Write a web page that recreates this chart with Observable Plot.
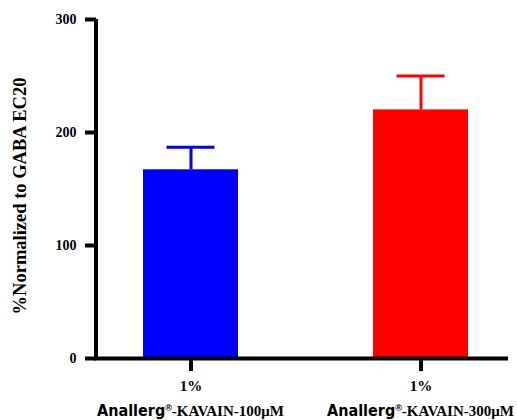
<!DOCTYPE html>
<html><head><meta charset="utf-8">
<script src="https://cdn.jsdelivr.net/npm/d3@7"></script>
<script src="https://cdn.jsdelivr.net/npm/@observablehq/plot@0.6"></script>
<style>body{margin:0;background:#fff}</style>
</head><body><div id="chart"></div>
<script>
const categories = ["KAVAIN-100μM", "KAVAIN-300μM"];
const means = [167, 220];
const errors = [20, 30];
const colors = ["#0000ff", "#ff0000"];
const labelTop = ["1%", "1%"];
const labelBrand = ["Anallerg", "Anallerg"];
const labelRest = ["-KAVAIN-100μM", "-KAVAIN-300μM"];
const yTicks = [0, 100, 200, 300];
const yLabel = "%Normalized to GABA EC20";

const data = categories.map((c, i) => ({cat: c, mean: means[i], hi: means[i] + errors[i], color: colors[i], top: labelTop[i]}));

const serif = "'Liberation Serif', 'Times New Roman', serif";
const plot = Plot.plot({
  width: 517, height: 420,
  marginLeft: 96, marginRight: 9, marginTop: 19, marginBottom: 62,
  style: {fontFamily: serif, fontWeight: "bold", fontSize: "14px", color: "#000", background: "#fff"},
  x: {domain: categories, paddingInner: 0.587, paddingOuter: 0.189, align: 0.54, axis: null},
  y: {domain: [0, 300], axis: null},
  color: {type: "identity"},
  marks: [
    Plot.barY(data, {x: "cat", y: "mean", fill: "color"}),
    Plot.ruleX(data, {x: "cat", y1: "mean", y2: "hi", stroke: "color", strokeWidth: 3}),
    Plot.tickY(data, {x: "cat", y: "hi", stroke: "color", strokeWidth: 3, insetLeft: 23.5, insetRight: 23.5}),
    Plot.axisY({ticks: yTicks, tickSize: 11, tickPadding: 9, stroke: "#000", strokeWidth: 4, label: null, fontSize: 14}),
    Plot.axisX({tickSize: 13, stroke: "#000", strokeWidth: 4, tickFormat: () => "", label: null}),
    Plot.ruleY([0], {stroke: "#000", strokeWidth: 4, insetLeft: -2}),
    Plot.text(data, {x: "cat", text: "top", frameAnchor: "bottom", dy: 32, fontSize: 15}),
    Plot.text([yLabel], {frameAnchor: "left", textAnchor: "middle", rotate: -90, dx: -76, dy: 7, fontSize: 18.5})
  ]
});
document.getElementById("chart").append(plot);

const svg = d3.select(plot);
const xs = plot.scale("x");
const ys = plot.scale("y");
// y-axis line from the plot's own scales
svg.append("line")
  .attr("x1", xs.range[0]).attr("x2", xs.range[0])
  .attr("y1", ys.apply(yTicks[yTicks.length - 1])).attr("y2", ys.apply(0) + 2)
  .attr("stroke", "#000").attr("stroke-width", 4);

categories.forEach((c, i) => {
  const cx = xs.apply(c) + xs.bandwidth / 2;
  const t = svg.append("text").attr("x", cx).attr("y", 416).attr("text-anchor", "middle")
    .attr("font-size", 15).attr("font-weight", "bold").attr("fill", "#000");
  t.append("tspan").attr("font-family", "'Liberation Sans Narrow', 'DejaVu Sans Condensed', sans-serif")
    .attr("font-weight", 900).attr("font-size", 16).text(labelBrand[i]);
  t.append("tspan").attr("font-family", "'Liberation Sans Narrow', sans-serif").attr("font-size", 9).attr("dy", -5).text("®");
  t.append("tspan").attr("font-family", serif).attr("dy", 5).text(labelRest[i]);
});
</script></body></html>
